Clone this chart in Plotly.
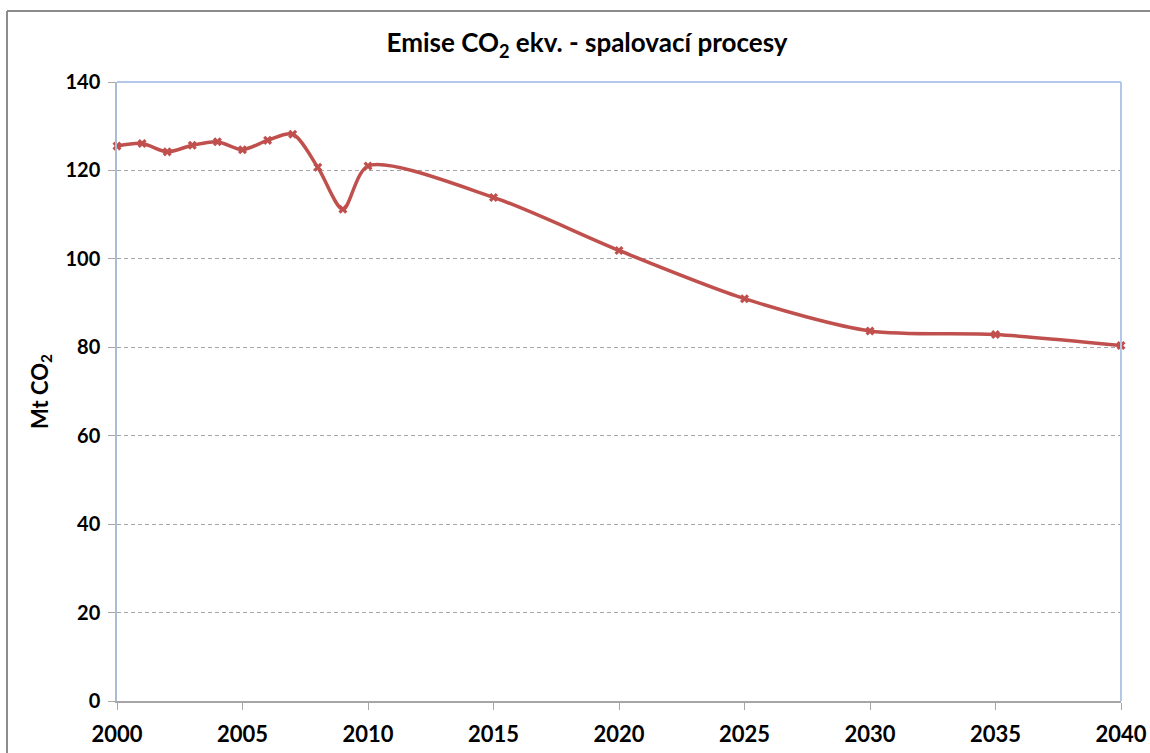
import plotly.graph_objects as go

years = [2000, 2001, 2002, 2003, 2004, 2005, 2006, 2007, 2008, 2009, 2010,
         2015, 2020, 2025, 2030, 2035, 2040]
emissions = [125.5, 126.1, 124.2, 125.7, 126.5, 124.7, 126.8, 128.2, 120.7, 111.2, 121.0,
             113.9, 101.9, 91.0, 83.7, 82.9, 80.4]
x_ticks = [2000, 2005, 2010, 2015, 2020, 2025, 2030, 2035, 2040]
y_ticks = [0, 20, 40, 60, 80, 100, 120, 140]

W, H = 1150, 753
L, R, T, B = 117, 1121, 82, 701

font_family = "Lato, 'Open Sans', sans-serif"

fig = go.Figure()
fig.add_trace(go.Scatter(
    x=years, y=emissions, mode="lines+markers",
    line=dict(color="#C0504D", width=3.5, shape="spline", smoothing=0.8),
    marker=dict(symbol="x", size=8, color="#C0504D"),
    showlegend=False, cliponaxis=False,
))

def px2paper_x(px):
    return (px - L) / (R - L)

def px2paper_y(py):
    return (B - py) / (B - T)

fig.update_layout(
    width=W, height=H,
    margin=dict(l=L, r=W - R, t=T, b=H - B),
    paper_bgcolor="white", plot_bgcolor="white",
    font=dict(family=font_family, color="black"),
    title=dict(text="<b>Emise CO<sub>2</sub> ekv. - spalovací procesy</b>",
               x=px2paper_x(587), xref="paper", xanchor="center",
               y=1 - 43 / H, yanchor="middle",
               font=dict(size=26, family=font_family)),
    xaxis=dict(range=[2000, 2040], tickvals=x_ticks, ticktext=[str(v) for v in x_ticks],
               showgrid=False, zeroline=False, showline=True, linecolor="#A6A6A6", linewidth=1.5,
               ticks="outside", ticklen=7, tickcolor="#A6A6A6", automargin=False,
               tickfont=dict(size=22, family=font_family, weight="bold"), ticklabelstandoff=6),
    yaxis=dict(range=[0, 140], tickvals=y_ticks, showgrid=True, gridcolor="#A6A6A6",
               griddash="4px,3px", gridwidth=1, zeroline=False,
               showline=True, linecolor="#A9BBD6", linewidth=1.5, automargin=False,
               ticks="outside", ticklen=7, tickcolor="#A6A6A6",
               tickfont=dict(size=20, family=font_family, weight="bold"), ticklabelstandoff=4,
               title=dict(text="<b>Mt CO<sub>2</sub></b>", font=dict(size=22, family=font_family),
                          standoff=11)),
    shapes=[
        dict(type="line", xref="paper", yref="paper", x0=0, x1=1, y0=1, y1=1,
             line=dict(color="#B3C8E8", width=2)),
        dict(type="line", xref="paper", yref="paper", x0=1, x1=1, y0=0, y1=1,
             line=dict(color="#B3C8E8", width=2)),
        # outer chart border (top and left edges visible)
        dict(type="line", xref="paper", yref="paper",
             x0=px2paper_x(7), x1=px2paper_x(1200), y0=px2paper_y(11), y1=px2paper_y(11),
             line=dict(color="#8C8C8C", width=2), layer="below"),
        dict(type="line", xref="paper", yref="paper",
             x0=px2paper_x(7), x1=px2paper_x(7), y0=px2paper_y(800), y1=px2paper_y(11),
             line=dict(color="#8C8C8C", width=2), layer="below"),
    ],
)

fig.write_html("out.html", config={"displayModeBar": False},
               post_script="document.body.style.margin='0';document.body.style.overflow='hidden';")
